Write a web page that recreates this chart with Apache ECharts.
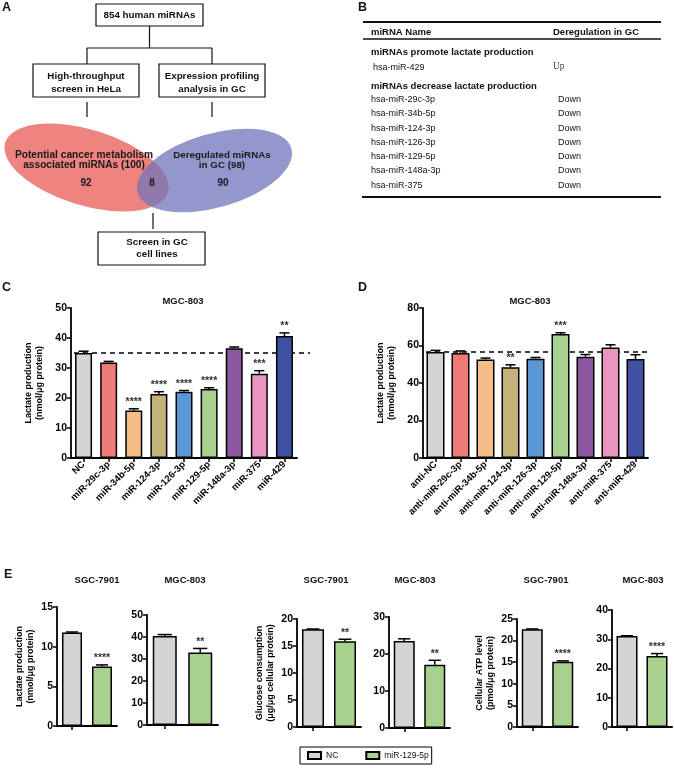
<!DOCTYPE html>
<html>
<head>
<meta charset="utf-8">
<script src="https://cdn.jsdelivr.net/npm/echarts@6/dist/echarts.min.js"></script>
<style>
html, body { margin: 0; padding: 0; background: #fff; }
#main { width: 674px; height: 768px; }
</style>
</head>
<body>
<div id="main"></div>
<script>
// ---- panel A: screening flow + venn
var flowBoxes = ['854 human miRNAs', 'High-throughput\nscreen in HeLa', 'Expression profiling\nanalysis in GC', 'Screen in GC\ncell lines'];
var vennSets = ['Potential cancer metabolism\nassociated miRNAs (100)', 'Deregulated miRNAs\nin GC (98)'];
var vennCounts = ['92', '8', '90'];

// ---- panel B: table
var tableHead = ['miRNA Name', 'Deregulation in GC'];
var tableGroups = ['miRNAs promote lactate production', 'miRNAs decrease lactate production'];
var upNames = ['hsa-miR-429'];
var upReg = ['Up'];
var downNames = ['hsa-miR-29c-3p', 'hsa-miR-34b-5p', 'hsa-miR-124-3p', 'hsa-miR-126-3p', 'hsa-miR-129-5p', 'hsa-miR-148a-3p', 'hsa-miR-375'];
var downReg = ['Down', 'Down', 'Down', 'Down', 'Down', 'Down', 'Down'];

// ---- panel C: mimics, MGC-803
var cNames = ['NC', 'miR-29c-3p', 'miR-34b-5p', 'miR-124-3p', 'miR-126-3p', 'miR-129-5p', 'miR-148a-3p', 'miR-375', 'miR-429'];
var cMeans = [35.0, 31.8, 15.8, 21.3, 22.1, 23.0, 36.6, 28.1, 40.7];
var cErrs = [0.6, 0.4, 0.6, 0.8, 0.4, 0.4, 0.4, 1.0, 1.0];
var cStars = ['', '', '****', '****', '****', '****', '', '***', '**'];
var cTicks = [0, 10, 20, 30, 40, 50];

// ---- panel D: inhibitors, MGC-803
var dNames = ['anti-NC', 'anti-miR-29c-3p', 'anti-miR-34b-5p', 'anti-miR-124-3p', 'anti-miR-126-3p', 'anti-miR-129-5p', 'anti-miR-148a-3p', 'anti-miR-375', 'anti-miR-429'];
var dMeans = [56.6, 56.0, 52.6, 48.4, 53.0, 66.1, 54.0, 59.0, 52.8];
var dErrs = [0.8, 1.1, 0.7, 1.3, 0.6, 0.7, 1.2, 1.4, 2.3];
var dStars = ['', '', '', '**', '', '***', '', '', ''];
var dTicks = [0, 20, 40, 60, 80];

// ---- panel E: NC vs miR-129-5p
var eGroups = ['NC', 'miR-129-5p'];
var eCells = ['SGC-7901', 'MGC-803', 'SGC-7901', 'MGC-803', 'SGC-7901', 'MGC-803'];
var eNC = [11.8, 40.4, 18.1, 23.5, 22.6, 31.1];
var eNCErr = [0.05, 0.7, 0.05, 0.6, 0.1, 0.1];
var eMiR = [7.5, 32.9, 15.9, 17.1, 15.1, 24.3];
var eMiRErr = [0.2, 1.9, 0.35, 1.2, 0.2, 0.8];
var eStars = ['****', '**', '**', '**', '****', '****'];
var eTicks = [[0, 5, 10, 15], [0, 10, 20, 30, 40, 50], [0, 5, 10, 15, 20], [0, 10, 20, 30], [0, 5, 10, 15, 20, 25], [0, 10, 20, 30, 40]];
var eYNames = ['Lactate production\n(nmol/μg protein)', '', 'Glucose consumption\n(μg/μg cellular protein)', '', 'Cellular ATP level\n(pmol/μg protein)', ''];

// colours
var cColors = ['#d4d4d4', '#ef7b78', '#f6bd86', '#c1b37a', '#5b97d5', '#a8d18d', '#8e57a1', '#eb93c1', '#3f51a2'];
var ncColor = '#d4d4d4', mirColor = '#a8d18d';

// layout
var eGrids = [
  {left: 57, top: 607, width: 60, height: 119},
  {left: 147, top: 615, width: 71, height: 110},
  {left: 297, top: 619, width: 64, height: 108},
  {left: 389, top: 617, width: 61, height: 111},
  {left: 517, top: 619, width: 61, height: 108},
  {left: 612, top: 610, width: 60, height: 117}
];
var eBarW = [20, 24, 22, 21, 21, 21];
var eTitleX = [97, 185, 326, 415, 546, 643];

var FONT = "'Liberation Sans', Arial, sans-serif";
function fnt(size, bold) { return (bold ? 'bold ' : '') + size + 'px ' + FONT; }

function label(x, y, s, font, align, lh, color) {
  var a = align || 'center';
  return {type: 'text', x: x, y: y, z: 20, silent: true,
    style: {text: s, font: font, fill: color || '#111', align: a, textAlign: a,
      verticalAlign: 'middle', textVerticalAlign: 'middle', lineHeight: lh || 12}};
}
function seg(x1, y1, x2, y2, w) {
  return {type: 'line', z: 15, silent: true, shape: {x1: x1, y1: y1, x2: x2, y2: y2}, style: {stroke: '#111', lineWidth: w || 1.2}};
}
function box(x, y, w, h) {
  return {type: 'rect', z: 15, silent: true, shape: {x: x, y: y, width: w, height: h}, style: {fill: '#fff', stroke: '#111', lineWidth: 1.2}};
}

var g = [];
// panel letters
g.push(label(2, 8, 'A', fnt(12.5, true), 'left'));
g.push(label(358, 8, 'B', fnt(12.5, true), 'left'));
g.push(label(2, 288, 'C', fnt(12.5, true), 'left'));
g.push(label(358, 288, 'D', fnt(12.5, true), 'left'));
g.push(label(4, 575, 'E', fnt(12.5, true), 'left'));

// A: flow chart
g.push(seg(149.5, 26, 149.5, 48));
g.push(seg(87, 48, 212, 48));
g.push(seg(87, 48, 87, 64));
g.push(seg(212, 48, 212, 64));
g.push(seg(87, 102, 87, 117));
g.push(seg(212, 102, 212, 117));
g.push(seg(153, 213, 153, 229));
g.push(box(96, 4, 107, 22));
g.push(box(33, 64, 106, 33));
g.push(box(159, 64, 106, 33));
g.push(box(98, 232, 107, 33));
g.push(label(149.5, 15, flowBoxes[0], fnt(9.8, true)));
g.push(label(86, 83, flowBoxes[1], fnt(9.8, true), 'center', 12.5));
g.push(label(212, 83, flowBoxes[2], fnt(9.8, true), 'center', 12.5));
g.push(label(157, 248.5, flowBoxes[3], fnt(9.8, true), 'center', 11.5));
// venn
g.push({type: 'circle', z: 10, silent: true, x: 86.5, y: 167.5, scaleX: 8.5, scaleY: 3.8, rotation: -17 * Math.PI / 180,
  shape: {cx: 0, cy: 0, r: 10}, style: {fill: '#ee837f'}});
g.push({type: 'circle', z: 11, silent: true, x: 214.5, y: 170.5, scaleX: 8.0, scaleY: 3.7, rotation: 16 * Math.PI / 180,
  shape: {cx: 0, cy: 0, r: 10}, style: {fill: 'rgba(112,116,186,0.75)'}});
g.push(label(84, 160, vennSets[0], fnt(10.2, true), 'center', 10.5, '#1a1a1a'));
g.push(label(222, 160.5, vennSets[1], fnt(9.8, true), 'center', 10.5, '#1a1a1a'));
g.push(label(86, 183, vennCounts[0], fnt(10, true), 'center', 12, '#1a1a1a'));
g.push(label(152, 183, vennCounts[1], fnt(10, true), 'center', 12, '#1a1a1a'));
g.push(label(223, 183, vennCounts[2], fnt(10, true), 'center', 12, '#1a1a1a'));

// B: table
g.push(seg(363, 22, 661, 22, 2));
g.push(seg(363, 39, 661, 39, 1.3));
g.push(seg(362, 197, 661, 197, 2));
g.push(label(371, 32, tableHead[0], fnt(9.5, true), 'left'));
g.push(label(553, 32, tableHead[1], fnt(9.5, true), 'left'));
g.push(label(371, 52, tableGroups[0], fnt(9.5, true), 'left'));
upNames.forEach(function (n, j) {
  g.push(label(373, 68, n, fnt(9), 'left'));
  g.push(label(553, 66, upReg[j], "9.5px 'Liberation Serif', 'Times New Roman', serif", 'left', 12, '#444'));
});
g.push(label(371, 86, tableGroups[1], fnt(9.5, true), 'left'));
downNames.forEach(function (n, j) {
  var y = 99.5 + j * 14.3;
  g.push(label(371, y, n, fnt(9), 'left'));
  g.push(label(558, y, downReg[j], fnt(9), 'left'));
});

// chart titles
g.push(label(183, 301, 'MGC-803', fnt(9.5, true)));
g.push(label(530, 301, 'MGC-803', fnt(9.5, true)));
eCells.forEach(function (c, k) { g.push(label(eTitleX[k], 580, c, fnt(9.5, true))); });

// ---- axes helpers
function yAx(gi, ticks, name, gap) {
  return {
    type: 'value', gridIndex: gi, min: ticks[0], max: ticks[ticks.length - 1], interval: ticks[1] - ticks[0],
    axisLine: {show: true, lineStyle: {color: '#000', width: 1.8}},
    axisTick: {show: true, length: 4, lineStyle: {color: '#000', width: 1.5}},
    axisLabel: {color: '#000', fontWeight: 'bold', fontSize: 10.5, margin: 4, fontFamily: FONT},
    splitLine: {show: false},
    name: name, nameLocation: 'middle', nameRotate: 90, nameGap: gap,
    nameTextStyle: {color: '#000', fontWeight: 'bold', fontSize: 9, lineHeight: 11, fontFamily: FONT}
  };
}
function xAx(gi, cats, showLabels) {
  return {
    type: 'category', gridIndex: gi, data: cats,
    axisLine: {show: true, lineStyle: {color: '#000', width: 1.8}},
    axisTick: {show: true, alignWithLabel: true, length: 4, lineStyle: {color: '#000', width: 1.5}},
    axisLabel: showLabels ? {rotate: 45, interval: 0, color: '#000', fontWeight: 'bold', fontSize: 9.5, margin: 5, fontFamily: FONT} : {show: false},
    splitLine: {show: false}
  };
}
function errRender(stars) {
  return function (params, api) {
    var i = api.value(0), v = api.value(1), e = api.value(2);
    var p0 = api.coord([i, v]), p1 = api.coord([i, v + e]);
    var cap = api.size([1, 0])[0] * 0.2;
    var kids = [
      {type: 'line', shape: {x1: p0[0], y1: p0[1], x2: p1[0], y2: p1[1]}, style: {stroke: '#000', lineWidth: 1.5}},
      {type: 'line', shape: {x1: p1[0] - cap, y1: p1[1], x2: p1[0] + cap, y2: p1[1]}, style: {stroke: '#000', lineWidth: 1.5}}
    ];
    var s = stars[params.dataIndex];
    if (s) {
      kids.push({type: 'text', x: p1[0], y: p1[1] - 1,
        style: {text: s, font: fnt(10.5, true), fill: '#333', align: 'center', textAlign: 'center', verticalAlign: 'bottom', textVerticalAlign: 'bottom'}});
    }
    return {type: 'group', children: kids};
  };
}
function errData(means, errs) {
  return means.map(function (m, i) { return [i, m, errs[i]]; });
}

var grids = [
  {left: 71, top: 308, width: 226, height: 150},
  {left: 423, top: 308, width: 225, height: 150}
].concat(eGrids);
grids.forEach(function (gr) { gr.outerBoundsMode = 'none'; gr.containLabel = false; });

var xAxes = [xAx(0, cNames, true), xAx(1, dNames, true)];
var yAxes = [yAx(0, cTicks, 'Lactate production\n(nmol/μg protein)', 26), yAx(1, dTicks, 'Lactate production\n(nmol/μg protein)', 26)];
var series = [];

function dashed(ref, x0, x1) {
  return {silent: true, symbol: 'none', z: 1, label: {show: false},
    lineStyle: {color: '#000', type: [5, 4], width: 1.5},
    data: [[{x: x0, yAxis: ref}, {x: x1, yAxis: ref}]]};
}

series.push({type: 'bar', name: 'mimics', xAxisIndex: 0, yAxisIndex: 0, barWidth: 17,
  itemStyle: {borderColor: '#000', borderWidth: 1.5},
  data: cMeans.map(function (v, i) { return {value: v, itemStyle: {color: cColors[i]}}; }),
  markLine: dashed(cMeans[0], 74, 310)});
series.push({type: 'custom', name: 'mimics err', xAxisIndex: 0, yAxisIndex: 0, z: 4, clip: false,
  renderItem: errRender(cStars), data: errData(cMeans, cErrs)});

series.push({type: 'bar', name: 'inhibitors', xAxisIndex: 1, yAxisIndex: 1, barWidth: 18,
  itemStyle: {borderColor: '#000', borderWidth: 1.5},
  data: dMeans.map(function (v, i) { return {value: v, itemStyle: {color: cColors[i]}}; }),
  markLine: dashed(dMeans[0], 426, 651)});
series.push({type: 'custom', name: 'inhibitors err', xAxisIndex: 1, yAxisIndex: 1, z: 4, clip: false,
  renderItem: errRender(dStars), data: errData(dMeans, dErrs)});

eCells.forEach(function (c, k) {
  var gi = k + 2;
  xAxes.push(xAx(gi, eGroups, false));
  yAxes.push(yAx(gi, eTicks[k], eYNames[k], 21));
  series.push({type: 'bar', name: eGroups[0], xAxisIndex: gi, yAxisIndex: gi, barWidth: eBarW[k], barGap: '-100%',
    itemStyle: {color: ncColor, borderColor: '#000', borderWidth: 1.5}, data: [eNC[k], '-']});
  series.push({type: 'bar', name: eGroups[1], xAxisIndex: gi, yAxisIndex: gi, barWidth: eBarW[k], barGap: '-100%',
    itemStyle: {color: mirColor, borderColor: '#000', borderWidth: 1.5}, data: ['-', eMiR[k]]});
  series.push({type: 'custom', name: 'err ' + k, xAxisIndex: gi, yAxisIndex: gi, z: 4, clip: false,
    renderItem: errRender(['', eStars[k]]),
    data: errData([eNC[k], eMiR[k]], [eNCErr[k], eMiRErr[k]])});
});

var myChart = echarts.init(document.getElementById('main'), null, {renderer: 'canvas'});
myChart.setOption({
  backgroundColor: '#fff',
  animation: false,
  textStyle: {fontFamily: FONT},
  legend: {
    data: eGroups, left: 300, top: 747, icon: 'rect', selectedMode: false,
    itemWidth: 13, itemHeight: 7, itemGap: 27, padding: [4, 3, 4, 7],
    borderColor: '#000', borderWidth: 1,
    textStyle: {color: '#111', fontSize: 8.5, fontFamily: FONT}
  },
  grid: grids,
  xAxis: xAxes,
  yAxis: yAxes,
  series: series,
  graphic: {elements: g}
});
</script>
</body>
</html>
